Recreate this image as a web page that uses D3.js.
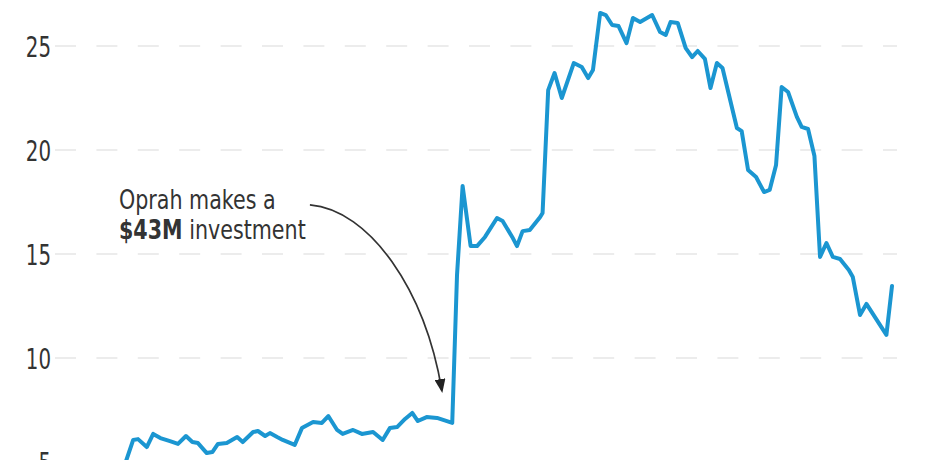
<!DOCTYPE html>
<html>
<head>
<meta charset="utf-8">
<script src="https://cdn.jsdelivr.net/npm/d3@7"></script>
<style>
  html, body { margin: 0; padding: 0; background: #fff; }
  svg { display: block; }
  .lbl { font-family: "Liberation Sans Narrow", "DejaVu Sans Condensed", "DejaVu Sans", sans-serif; fill: #333; }
</style>
</head>
<body>
<svg id="chart" width="950" height="460"></svg>
<script>
const days = [-3, 9, 15, 26, 34, 43, 55, 65, 75, 83, 90, 101, 108, 115, 126, 139, 146, 159, 165, 174, 180, 189, 196, 211, 220, 234, 245, 253, 264, 271, 284, 295, 309, 321, 330, 339, 349, 358, 365, 376, 389, 408, 414, 421, 431, 439, 449, 464, 471, 483, 489, 496, 505, 518, 521, 528, 536, 545, 560, 570, 578, 584, 593, 600, 608, 616, 626, 634, 643, 658, 668, 675, 681, 690, 700, 708, 715, 724, 731, 739, 746, 764, 770, 778, 788, 798, 805, 813, 820, 828, 839, 845, 853, 861, 868, 876, 884, 893, 904, 909, 918, 926, 951, 958];
const price = [4.7, 6.06, 6.1, 5.72, 6.35, 6.15, 6.0, 5.87, 6.25, 5.96, 5.91, 5.43, 5.48, 5.87, 5.91, 6.2, 5.96, 6.44, 6.49, 6.25, 6.39, 6.2, 6.06, 5.82, 6.63, 6.92, 6.88, 7.21, 6.54, 6.35, 6.54, 6.35, 6.44, 6.06, 6.63, 6.68, 7.07, 7.36, 6.97, 7.16, 7.12, 6.88, 14.0, 18.27, 15.38, 15.38, 15.82, 16.73, 16.59, 15.82, 15.38, 16.1, 16.15, 16.78, 16.97, 22.88, 23.7, 22.5, 24.18, 23.99, 23.46, 23.85, 26.59, 26.49, 26.01, 25.96, 25.14, 26.35, 26.15, 26.49, 25.67, 25.53, 26.15, 26.11, 24.9, 24.47, 24.76, 24.38, 22.98, 24.18, 23.94, 21.06, 20.91, 19.04, 18.7, 17.98, 18.08, 19.28, 23.03, 22.79, 21.59, 21.11, 21.01, 19.71, 14.86, 15.53, 14.86, 14.76, 14.23, 13.89, 12.07, 12.6, 11.11, 13.46];
const yTicks = [5, 10, 15, 20, 25];

// Annotation (data space)
const noteLine1 = "Oprah makes a";
const noteBold = "$43M";
const noteRest = " investment";
const noteStart = { day: 230, value: 17.36 };
const noteTip = { day: 395, value: 8.45 };

const svg = d3.select("#chart");
const x = d3.scaleLinear().domain([0, 958]).range([126, 892]);
const y = d3.scaleLinear().domain([5, 25]).range([462, 46]);

// Gridlines
svg.append("g").selectAll("line").data(yTicks).join("line")
  .attr("x1", 55).attr("x2", 897)
  .attr("y1", d => y(d)).attr("y2", d => y(d))
  .attr("stroke", "#e6e6e6").attr("stroke-width", 1.3)
  .attr("stroke-dasharray", "21 20.4");

// Y axis labels
const yAxis = d3.axisLeft(y).tickValues(yTicks).tickSize(0).tickPadding(0);
const gA = svg.append("g").attr("transform", "translate(51,0)").call(yAxis);
gA.select(".domain").remove();
gA.attr("font-family", null).attr("font-size", null);
gA.selectAll("text").attr("class", "lbl").attr("font-size", 29).attr("fill", "#333")
  .attr("dy", "0.36em").attr("transform", "scale(0.76,1)");

// Line
const pts = days.map((d, i) => [d, price[i]]);
svg.append("path").datum(pts)
  .attr("fill", "none").attr("stroke", "#1b96d1").attr("stroke-width", 4)
  .attr("stroke-linejoin", "round").attr("stroke-linecap", "round")
  .attr("d", d3.line().x(d => x(d[0])).y(d => y(d[1])));

// Annotation text (condensed horizontally to match the narrow face)
const ng = svg.append("g").attr("transform", "translate(119,0) scale(0.85,1)");
ng.append("text").attr("class", "lbl").attr("font-size", 27).attr("x", 0).attr("y", 209).text(noteLine1);
const t2 = ng.append("text").attr("class", "lbl").attr("font-size", 27).attr("x", 0).attr("y", 239);
t2.append("tspan").attr("font-weight", "bold").text(noteBold);
t2.append("tspan").text(noteRest);

// Arrow
const sx = x(noteStart.day), sy = y(noteStart.value);
const ex = x(noteTip.day), ey = y(noteTip.value);
svg.append("defs").append("marker")
  .attr("id", "ah").attr("viewBox", "0 0 10 10").attr("refX", 8).attr("refY", 5)
  .attr("markerWidth", 14).attr("markerHeight", 11).attr("markerUnits", "userSpaceOnUse")
  .attr("orient", "auto").attr("preserveAspectRatio", "none")
  .append("path").attr("d", "M0,0 L10,5 L0,10 Z").attr("fill", "#222");
const ap = d3.path();
ap.moveTo(sx, sy);
ap.bezierCurveTo(sx + 60, sy + 5, sx + 115, sy + 85, ex, ey);
svg.append("path").attr("d", ap.toString())
  .attr("fill", "none").attr("stroke", "#333").attr("stroke-width", 1.7)
  .attr("marker-end", "url(#ah)");
</script>
</body>
</html>
